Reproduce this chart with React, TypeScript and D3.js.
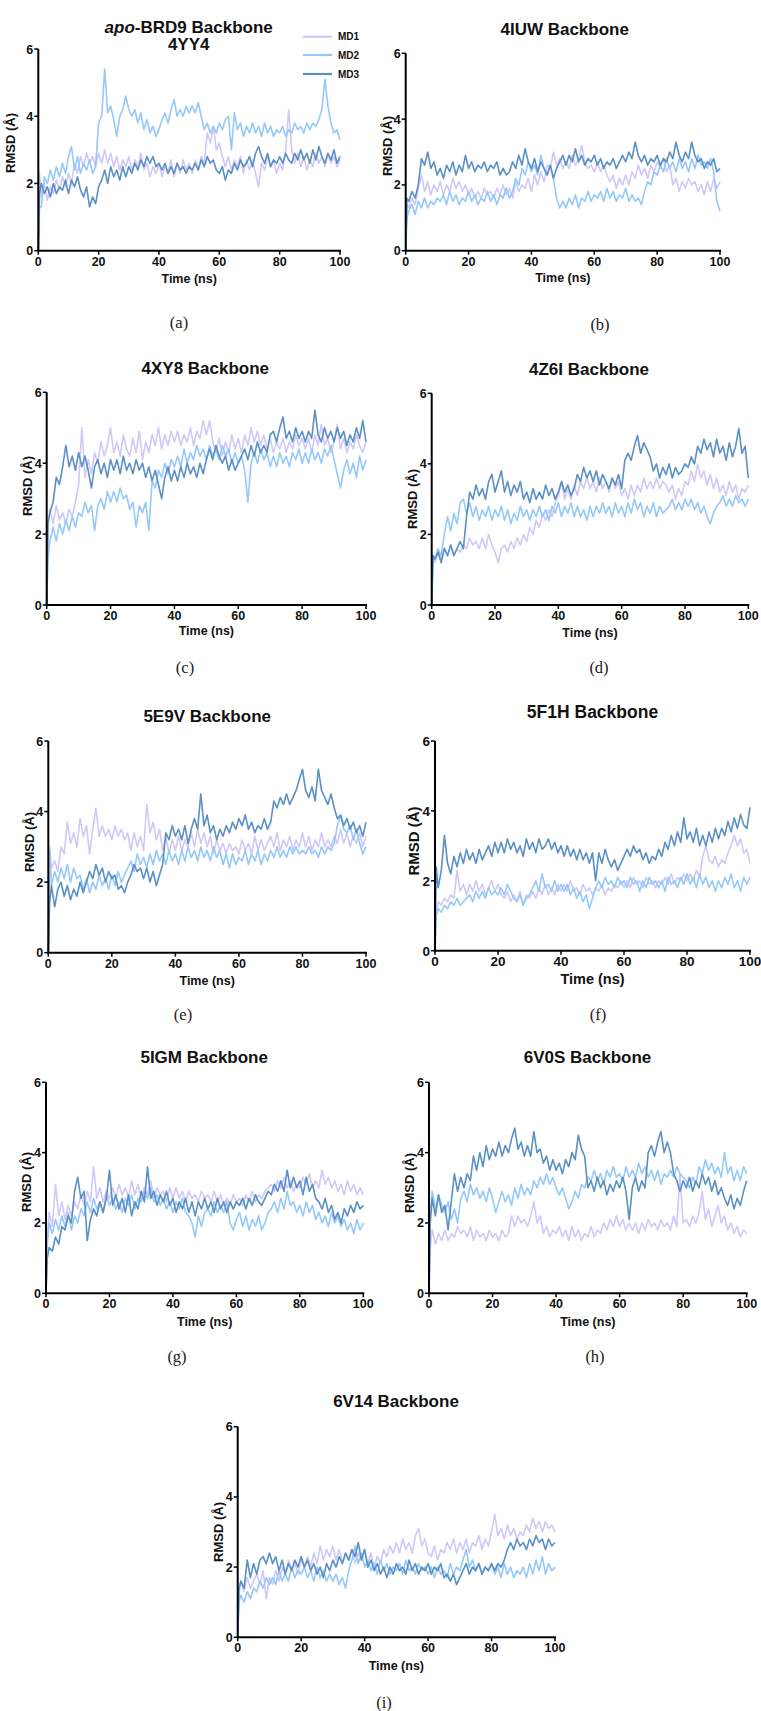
import React from 'react';
import * as d3 from 'd3';

// ---------- data ----------
const TIME_NS: number[] = [0, 0.4, ...d3.range(1, 101)];
const Y_TICKS = [0, 2, 4, 6];
const X_TICKS = [0, 20, 40, 60, 80, 100];
const SERIES_NAMES = ['MD1', 'MD2', 'MD3'];

// (a) 4YY4
const RMSD_4YY4_MD1 = [0, 2.3,
  1.6, 2.0, 1.5, 1.9, 1.7, 2.1, 1.8, 2.2, 1.9, 2.3,
  2.0, 2.6, 2.3, 2.8, 2.5, 2.9, 2.6, 2.8, 2.5, 2.9,
  2.6, 3.0, 2.6, 2.9, 2.5, 2.8, 2.4, 2.7, 2.5, 2.8,
  2.4, 2.7, 2.5, 2.9, 2.4, 2.6, 2.2, 2.5, 2.3, 2.6,
  2.2, 2.5, 2.3, 2.7, 2.2, 2.6, 2.3, 2.7, 2.4, 2.6,
  2.3, 2.7, 2.4, 2.8, 2.6, 3.5, 3.2, 3.7, 3.0, 3.2,
  2.8, 2.5, 2.8, 2.4, 2.7, 2.5, 2.8, 2.3, 2.7, 2.4,
  2.7, 2.3, 1.9, 2.6, 2.4, 2.8, 2.5, 2.7, 2.3, 2.6,
  2.4, 3.0, 4.2, 3.0, 2.6, 2.9, 2.5, 2.8, 2.4, 2.7,
  2.5, 2.9, 2.6, 2.8, 2.5, 2.9, 2.6, 2.8, 2.5, 2.7];
const RMSD_4YY4_MD2 = [0, 1.3,
  1.3, 2.2, 2.0, 2.4, 2.1, 2.5, 2.2, 2.6, 2.3, 2.8,
  3.1, 2.4, 2.8, 2.3, 2.6, 2.4, 2.7, 2.3, 2.5, 3.8,
  4.0, 5.4, 4.1, 4.3, 3.9, 3.4, 4.0, 4.2, 4.6, 4.2,
  4.0, 4.2, 3.8, 4.1, 3.6, 3.9, 3.5, 3.7, 3.4, 3.6,
  3.9, 4.1, 3.8, 4.2, 4.5, 4.0, 4.2, 4.0, 4.3, 4.1,
  4.3, 4.1, 4.4, 4.0, 3.6, 3.8, 3.5, 3.7, 3.5, 3.8,
  3.6, 3.9, 4.0, 3.0, 4.1, 3.6, 3.8, 3.4, 3.7, 3.5,
  3.8, 3.5, 3.7, 3.4, 3.8, 3.5, 3.7, 3.4, 3.6, 3.5,
  3.7, 3.4, 3.6, 3.5, 3.8, 3.6, 3.7, 3.5, 3.8, 3.6,
  3.8, 3.7, 3.9, 4.2, 5.1, 4.3, 3.8, 3.5, 3.6, 3.3];
const RMSD_4YY4_MD3 = [0, 1.7,
  2.0, 1.7, 1.9, 1.6, 2.0, 1.7, 1.9, 1.8, 2.1, 1.7,
  2.1, 1.9, 2.2, 1.8, 1.6, 1.9, 1.3, 1.6, 1.4, 1.9,
  2.1, 2.4, 2.0, 2.5, 2.2, 2.4, 2.1, 2.5, 2.2, 2.5,
  2.3, 2.6, 2.4, 2.7, 2.5, 2.8, 2.6, 2.8, 2.5, 2.6,
  2.4, 2.6, 2.3, 2.5, 2.3, 2.6, 2.4, 2.5, 2.3, 2.5,
  2.4, 2.6, 2.4, 2.7, 2.5, 2.8, 2.6, 2.7, 2.4, 2.3,
  2.5, 2.1, 2.4, 2.3, 2.6, 2.4, 2.7, 2.5, 2.6, 2.8,
  2.5, 2.9, 3.1, 2.8, 2.6, 2.9, 2.5, 2.7, 2.6, 2.8,
  2.6, 2.9, 2.7, 2.6, 2.9, 2.7, 3.0, 2.7, 2.9, 2.6,
  3.0, 2.7, 3.1, 2.8, 2.6, 2.9, 2.7, 3.0, 2.6, 2.8];

// (b) 4IUW
const RMSD_4IUW_MD1 = [0, 1.4,
  1.3, 1.6, 1.4, 1.9, 2.3, 1.8, 2.1, 1.7, 2.0, 1.8,
  2.1, 1.7, 2.0, 1.8, 2.2, 1.9, 2.1, 1.8, 2.0, 1.7,
  1.9, 1.6, 1.8, 1.6, 1.9, 1.7, 1.8, 1.6, 1.9, 1.7,
  2.0, 1.7, 1.9, 1.6, 2.1, 1.8, 2.0, 1.9, 2.2, 1.8,
  2.3, 2.0, 2.4, 2.1, 2.6, 2.5, 3.0, 2.6, 2.8, 2.5,
  2.7, 2.5, 2.9, 2.6, 2.8, 3.2, 2.7, 2.5, 2.6, 2.4,
  2.7, 2.4, 2.6, 2.3, 2.1, 2.3, 1.9, 2.2, 2.0, 2.3,
  2.0, 2.4, 2.2, 2.6, 2.3, 2.5, 2.2, 2.6, 2.4, 2.7,
  2.5, 2.8, 2.4, 2.6, 2.0, 2.2, 1.8, 2.1, 1.9, 2.2,
  2.0, 2.1, 1.8, 2.0, 1.7, 2.1, 1.8, 2.2, 1.9, 2.1];
const RMSD_4IUW_MD2 = [0, 1.0,
  1.2, 1.4, 1.1, 1.5, 1.3, 1.6, 1.3, 1.5, 1.4, 1.6,
  1.5, 1.7, 1.4, 1.8, 1.5, 1.7, 1.4, 1.6, 1.5, 1.8,
  1.5, 1.7, 1.4, 1.6, 1.5, 1.8, 1.5, 1.7, 1.4, 1.7,
  1.6, 1.9, 1.6, 1.8, 2.2, 2.0, 2.5, 2.3, 2.7, 2.4,
  2.6, 2.3, 2.9, 2.5, 2.3, 2.6, 2.2, 1.6, 1.3, 1.5,
  1.3, 1.6, 1.4, 1.7, 1.3, 1.6, 1.5, 1.8, 1.5, 1.7,
  1.6, 1.8, 1.5, 1.9, 1.6, 1.8, 1.5, 1.7, 1.6, 1.9,
  1.5, 1.7, 1.5, 1.6, 1.4, 1.8, 2.1, 2.0, 2.4, 2.3,
  2.6, 2.4, 2.8, 2.5, 2.7, 2.4, 2.8, 2.5, 2.7, 2.4,
  2.8, 2.5, 2.9, 2.6, 2.7, 2.5, 2.8, 2.4, 1.5, 1.2];
const RMSD_4IUW_MD3 = [0, 1.6,
  1.5, 1.8, 1.6, 2.0, 2.8, 2.6, 3.0, 2.5, 2.7, 2.3,
  2.5, 2.2, 2.6, 2.4, 2.7, 2.3, 2.6, 2.4, 2.9, 2.5,
  2.7, 2.4, 2.6, 2.5, 2.7, 2.4, 2.6, 2.5, 2.7, 2.3,
  2.5, 2.3, 2.4, 2.7, 2.5, 2.9, 2.6, 3.1, 2.7, 2.5,
  2.8, 2.4, 2.7, 2.5, 2.3, 2.6, 2.2, 2.5, 2.7, 2.9,
  2.6, 2.9, 2.7, 3.1, 2.7, 2.9, 2.6, 2.8, 2.7, 2.9,
  2.6, 2.8, 2.5, 2.7, 2.6, 2.8, 2.5, 2.7, 2.9, 2.7,
  3.0, 2.8, 3.3, 2.9, 2.7, 2.9, 2.6, 2.8, 2.7, 2.9,
  2.6, 2.8, 2.7, 3.0, 2.8, 3.3, 2.9, 2.7, 3.0, 2.8,
  3.3, 2.9, 2.7, 2.8, 2.5, 2.7, 2.6, 2.8, 2.4, 2.5];

// (c) 4XY8
const RMSD_4XY8_MD1 = [0, 2.2,
  2.7, 2.3, 2.8, 2.4, 2.6, 2.3, 2.7, 2.5, 2.9, 3.4,
  5.0, 3.6, 4.1, 3.7, 4.3, 4.0, 4.6, 4.2, 4.5, 5.0,
  4.3, 4.6, 4.2, 4.8, 4.4, 4.2, 4.7, 4.3, 4.9, 4.1,
  4.6, 4.3, 4.8, 4.5, 5.0, 4.4, 4.8, 4.5, 4.9, 4.6,
  4.9, 4.5, 4.8, 4.6, 5.0, 4.5, 4.9, 4.7, 5.2, 4.8,
  5.2, 4.6, 4.3, 4.7, 4.2, 4.6, 4.3, 4.8, 4.4, 4.7,
  4.3, 4.8, 4.5, 5.0, 4.6, 4.9, 4.5, 4.8, 4.4, 4.7,
  4.3, 4.6, 4.4, 4.7, 4.3, 4.6, 4.4, 4.8, 4.5, 4.7,
  4.4, 4.7, 4.3, 4.8, 4.5, 5.1, 4.5, 4.7, 4.3, 4.6,
  5.1, 4.4, 4.7, 4.3, 4.6, 4.4, 4.8, 4.5, 4.3, 4.6];
const RMSD_4XY8_MD2 = [0, 1.3,
  1.8, 2.2, 1.8, 2.3, 2.0, 2.4, 2.1, 2.5, 2.2, 2.6,
  2.5, 2.9, 2.6, 2.8, 2.1, 2.8, 3.0, 2.7, 3.2, 2.9,
  3.2, 2.9, 3.3, 3.0, 3.1, 2.7, 2.9, 2.2, 2.8, 2.6,
  2.9, 2.1, 3.5, 3.3, 3.8, 3.6, 4.0, 3.7, 4.1, 3.9,
  4.2, 3.9, 4.4, 4.0, 4.3, 4.1, 4.5, 4.2, 4.4, 4.1,
  4.5, 4.2, 4.4, 4.1, 4.5, 4.2, 4.4, 4.0, 4.3, 4.0,
  4.2, 3.8, 2.9, 4.0, 4.3, 4.0, 4.4, 4.1, 4.3, 3.9,
  4.2, 3.9, 4.3, 4.0, 4.2, 3.9, 4.3, 4.1, 4.4, 4.0,
  4.3, 4.0, 4.4, 4.1, 4.3, 4.0, 4.4, 4.2, 4.5, 4.1,
  3.7, 3.3, 3.8, 4.1, 3.7, 4.0, 3.6, 4.2, 3.8, 4.1];
const RMSD_4XY8_MD3 = [0, 2.3,
  2.6, 2.9, 3.6, 3.4, 3.9, 4.5, 3.9, 4.2, 3.8, 4.3,
  3.9, 4.2, 3.8, 3.3, 3.9, 4.1, 3.7, 4.0, 3.6, 4.1,
  3.8, 4.1, 3.7, 4.2, 3.8, 4.0, 3.7, 4.1, 3.8, 4.0,
  3.6, 3.9, 3.5, 3.8, 3.4, 3.0, 3.6, 3.9, 3.5, 3.8,
  3.5, 3.9, 3.6, 4.0, 3.7, 3.9, 3.6, 4.0, 3.7, 4.1,
  4.4, 4.1, 4.5, 4.2, 4.0, 4.2, 3.8, 4.1, 3.8, 4.0,
  4.2, 4.4, 4.1, 4.5, 4.2, 4.6, 4.3, 4.5, 4.3, 4.8,
  4.9, 4.6, 5.0, 5.3, 4.7, 4.9, 4.6, 5.0, 4.7, 4.9,
  4.6, 4.9, 4.7, 5.5, 4.8, 4.6, 5.0, 4.7, 4.9, 4.6,
  5.0, 4.7, 4.9, 4.5, 4.8, 4.6, 5.0, 4.7, 5.2, 4.6];

// (d) 4Z6I
const RMSD_4Z6I_MD1 = [0, 1.3,
  1.2, 1.5, 1.3, 1.6, 1.4, 1.7, 1.4, 1.6, 1.5, 1.7,
  1.6, 1.9, 1.7, 1.8, 1.6, 1.9, 1.6, 2.0, 1.7, 1.5,
  1.2, 1.6, 1.7, 1.5, 1.8, 1.6, 1.9, 1.7, 2.0, 1.8,
  2.2, 2.0, 2.4, 2.2, 2.6, 2.4, 2.7, 2.5, 2.9, 3.1,
  3.5, 3.0, 3.3, 3.0, 3.4, 3.1, 3.5, 3.3, 3.6, 3.3,
  3.5, 3.2, 3.6, 3.3, 3.5, 3.2, 3.6, 3.3, 3.5, 3.1,
  3.3, 3.0, 3.4, 3.1, 3.4, 3.2, 3.6, 3.3, 3.5, 3.3,
  3.6, 3.3, 3.5, 3.4, 3.2, 3.4, 3.0, 3.3, 3.1, 3.5,
  3.4, 3.8, 3.5, 4.0, 3.6, 3.8, 3.4, 3.7, 3.3, 3.6,
  3.2, 3.4, 3.1, 3.5, 3.2, 3.4, 3.0, 3.3, 3.2, 3.4];
const RMSD_4Z6I_MD2 = [0, 1.4,
  1.3, 1.6, 1.4, 2.0, 2.5, 2.1, 2.6, 2.3, 2.9, 3.0,
  2.6, 2.9, 2.5, 2.8, 2.4, 2.7, 2.5, 2.8, 2.4, 2.7,
  2.5, 2.8, 2.4, 2.7, 2.3, 2.6, 2.4, 2.8, 2.5, 2.7,
  2.4, 2.7, 2.5, 2.8, 2.5, 2.7, 2.4, 2.8, 2.6, 2.9,
  2.5, 2.8, 2.6, 2.9, 2.5, 2.8, 2.5, 2.7, 2.4, 2.8,
  2.5, 2.8, 2.6, 2.9, 2.6, 2.8, 2.5, 2.9, 2.6, 2.8,
  2.5, 2.9, 2.6, 3.0, 2.7, 2.9, 2.5, 2.8, 2.6, 2.9,
  2.5, 2.8, 2.6, 2.7, 2.8, 3.0, 2.7, 2.9, 2.7, 3.0,
  2.8, 3.0, 2.7, 2.9, 2.6, 2.8, 2.5, 2.3, 2.6, 2.8,
  2.9, 3.1, 2.8, 3.0, 2.8, 3.1, 2.9, 3.0, 2.8, 3.0];
const RMSD_4Z6I_MD3 = [0, 1.4,
  1.3, 1.5, 1.2, 1.6, 1.4, 1.7, 1.4, 1.6, 1.8, 1.6,
  2.5, 3.2, 3.0, 3.4, 3.1, 3.3, 3.0, 3.5, 3.7, 3.2,
  3.5, 3.8, 3.2, 3.5, 3.1, 3.4, 3.2, 3.5, 3.0, 3.2,
  2.9, 3.3, 3.0, 3.2, 3.0, 3.4, 3.1, 3.3, 3.0, 3.2,
  3.5, 3.2, 3.4, 3.1, 3.3, 3.7, 3.5, 3.9, 3.6, 3.8,
  3.5, 3.8, 3.4, 3.7, 3.5, 3.3, 3.6, 3.4, 3.7, 3.3,
  4.1, 4.3, 4.1, 4.5, 4.8, 4.3, 4.6, 4.4, 4.2, 3.8,
  4.0, 3.6, 3.9, 3.7, 4.0, 3.6, 3.9, 3.7, 3.8, 4.0,
  3.9, 4.2, 4.0, 4.5, 4.3, 4.7, 4.4, 4.6, 4.2, 4.7,
  4.3, 4.5, 4.1, 4.6, 4.2, 4.5, 5.0, 4.3, 4.5, 3.6];

// (e) 5E9V
const RMSD_5E9V_MD1 = [0, 3.0,
  2.4, 2.6, 2.3, 3.0, 2.8, 3.7, 3.1, 3.4, 3.0, 3.8,
  3.3, 3.6, 2.8, 3.5, 4.1, 3.3, 3.6, 3.3, 3.5, 3.2,
  3.6, 3.3, 3.5, 3.2, 3.4, 2.9, 3.4, 3.0, 3.3, 2.9,
  4.2, 3.4, 3.7, 3.2, 3.5, 2.9, 3.3, 2.8, 3.2, 2.9,
  3.3, 2.9, 3.2, 3.0, 3.4, 3.0, 3.5, 3.1, 3.4, 3.0,
  3.3, 2.8, 3.2, 2.9, 3.1, 2.8, 3.1, 2.9, 3.0, 2.8,
  3.2, 2.9, 3.1, 2.8, 3.3, 2.9, 3.2, 2.9, 3.1, 3.3,
  3.0, 3.4, 2.9, 3.2, 3.0, 3.3, 2.9, 3.2, 3.0, 3.4,
  3.0, 3.3, 2.9, 3.2, 3.0, 3.4, 3.0, 3.2, 3.0, 3.3,
  3.1, 3.5, 3.1, 3.4, 3.0, 3.3, 3.1, 3.4, 3.0, 3.3];
const RMSD_5E9V_MD2 = [0, 2.9,
  1.9, 2.3, 2.0, 2.4, 2.1, 2.5, 2.0, 2.4, 2.1, 2.2,
  1.8, 2.1, 1.7, 2.0, 1.8, 2.2, 1.9, 2.1, 1.8, 2.2,
  1.9, 2.3, 2.0, 2.2, 2.4, 2.6, 2.3, 2.8, 2.5, 2.7,
  2.4, 2.8, 2.5, 2.9, 2.6, 2.8, 2.5, 2.9, 2.6, 2.8,
  2.5, 2.9, 2.6, 3.0, 2.7, 2.9, 2.6, 3.0, 2.7, 2.9,
  2.6, 3.0, 2.7, 2.9, 2.5, 2.8, 2.4, 2.8, 2.5, 2.7,
  2.6, 2.9, 2.5, 2.8, 2.6, 2.9, 2.5, 2.8, 2.6, 2.9,
  2.7, 3.0, 2.7, 2.9, 2.7, 3.0, 2.8, 3.0, 2.8, 2.9,
  2.8, 3.0, 2.8, 2.9, 2.7, 3.0, 2.8, 3.0, 2.9, 3.1,
  3.6, 3.9, 3.5, 3.4, 3.6, 3.2, 3.5, 3.1, 2.8, 3.0];
const RMSD_5E9V_MD3 = [0, 1.4,
  1.9, 1.3, 1.8, 2.0, 1.6, 1.9, 1.5, 1.8, 1.6, 2.0,
  1.7, 2.0, 2.3, 2.1, 2.5, 2.2, 2.4, 2.0, 2.3, 2.1,
  2.2, 1.8, 1.9, 1.7, 2.0, 2.2, 2.5, 2.3, 2.4, 2.1,
  2.4, 2.0, 2.3, 1.9, 2.2, 2.5, 3.4, 3.2, 3.6, 3.3,
  3.5, 3.2, 3.6, 3.1, 3.5, 3.8, 3.5, 4.5, 3.6, 3.9,
  3.4, 3.6, 3.2, 3.5, 3.3, 3.6, 3.4, 3.7, 3.5, 3.8,
  3.6, 3.9, 3.5, 3.7, 3.4, 3.6, 3.5, 3.8, 3.5, 3.7,
  4.3, 4.1, 4.4, 4.2, 4.5, 4.2, 4.4, 4.6, 4.9, 5.2,
  4.6, 4.4, 4.7, 4.3, 5.2, 4.6, 4.4, 4.2, 4.5, 4.1,
  3.8, 3.9, 3.6, 3.8, 3.5, 3.7, 3.4, 3.6, 3.3, 3.7];

// (f) 5F1H
const RMSD_5F1H_MD1 = [0, 1.0,
  1.4, 1.3, 1.5, 1.4, 1.6, 1.5, 2.3, 1.7, 1.9, 1.6,
  1.9, 1.7, 2.0, 1.7, 1.9, 1.6, 1.8, 2.0, 1.7, 1.9,
  1.6, 1.5, 1.7, 1.4, 1.6, 1.4, 1.7, 1.3, 1.6, 1.5,
  1.7, 1.5, 1.8, 1.6, 1.9, 1.6, 1.8, 1.6, 1.9, 1.7,
  1.9, 1.7, 2.0, 1.7, 1.8, 1.6, 1.9, 1.7, 1.8, 1.6,
  1.8, 1.7, 1.9, 1.6, 1.8, 1.7, 1.9, 1.8, 2.0, 1.8,
  2.0, 1.8, 2.1, 1.9, 2.0, 1.8, 2.1, 1.9, 2.0, 1.8,
  2.0, 1.9, 2.1, 1.9, 2.2, 1.9, 2.1, 2.0, 2.2, 2.0,
  2.2, 2.0, 2.3, 2.1, 2.7, 3.0, 2.6, 2.5, 2.7, 2.4,
  2.6, 2.5, 2.8, 3.0, 3.3, 3.0, 3.2, 2.8, 2.9, 2.5];
const RMSD_5F1H_MD2 = [0, 1.0,
  1.2, 1.1, 1.3, 1.2, 1.4, 1.3, 1.5, 1.3, 1.4, 1.5,
  1.6, 1.4, 1.7, 1.5, 1.7, 1.5, 1.8, 1.6, 1.7, 1.6,
  1.8, 1.6, 1.9, 1.7, 1.5, 1.4, 1.6, 1.3, 1.5, 1.6,
  1.8, 2.0, 1.7, 2.2, 1.8, 1.9, 1.7, 2.0, 1.7, 1.9,
  1.7, 1.9, 1.6, 1.8, 1.5, 1.7, 1.4, 1.6, 1.2, 1.5,
  1.8, 2.0, 1.8, 2.1, 1.9, 2.0, 1.8, 2.1, 1.9, 2.0,
  1.8, 2.1, 1.9, 2.0, 1.7, 2.0, 1.8, 2.1, 1.9, 2.0,
  1.8, 2.0, 1.7, 2.1, 1.9, 2.0, 1.8, 2.1, 1.9, 2.2,
  1.9, 2.1, 1.8, 2.2, 1.9, 2.1, 1.8, 2.0, 1.7, 2.0,
  1.8, 2.1, 1.9, 2.2, 1.8, 2.0, 1.7, 2.1, 1.9, 2.1];
const RMSD_5F1H_MD3 = [0, 2.4,
  1.8, 2.3, 3.3, 2.5, 2.2, 2.7, 2.4, 2.8, 2.5, 2.9,
  2.6, 2.8, 2.5, 2.9, 2.6, 2.8, 3.0, 2.7, 3.1, 2.8,
  3.1, 2.8, 3.2, 2.9, 3.1, 2.8, 3.0, 2.7, 3.2, 2.9,
  3.1, 2.8, 3.2, 2.9, 3.0, 3.2, 2.9, 3.1, 2.8, 3.0,
  2.7, 3.0, 2.7, 2.9, 2.6, 2.9, 2.6, 2.8, 2.5, 2.8,
  2.0, 2.8, 2.5, 2.9, 2.6, 2.4, 2.6, 2.3, 2.5, 2.7,
  2.9, 2.7, 3.0, 2.8, 2.9, 2.6, 2.8, 2.5, 2.7, 2.6,
  2.9, 2.7, 3.1, 2.9, 3.3, 3.0, 3.4, 3.1, 3.8, 3.2,
  3.4, 3.1, 3.5, 3.0, 3.3, 3.0, 3.4, 3.1, 3.5, 3.2,
  3.5, 3.3, 3.7, 3.4, 3.8, 3.5, 3.9, 3.6, 3.5, 4.1];

// (g) 5IGM
const RMSD_5IGM_MD1 = [0, 1.6,
  2.3, 1.9, 3.1, 2.2, 2.6, 2.1, 2.5, 2.2, 2.6, 2.4,
  2.8, 2.5, 2.9, 2.6, 3.6, 2.7, 3.0, 2.6, 2.9, 2.7,
  3.0, 2.7, 3.1, 2.8, 3.0, 2.7, 3.2, 2.8, 3.1, 2.7,
  3.0, 2.8, 3.2, 2.7, 3.0, 2.8, 2.9, 2.6, 3.0, 2.7,
  3.0, 2.7, 2.9, 2.6, 2.9, 2.7, 2.8, 2.6, 2.9, 2.7,
  2.8, 2.6, 2.9, 2.6, 2.8, 2.5, 2.7, 2.5, 2.8, 2.6,
  2.7, 2.5, 2.8, 2.6, 2.9, 2.6, 2.8, 2.7, 2.9, 3.0,
  3.1, 2.9, 3.2, 3.0, 3.3, 3.0, 3.2, 2.9, 3.1, 3.0,
  3.3, 3.1, 3.4, 3.0, 3.2, 3.0, 3.5, 3.1, 3.3, 3.0,
  3.2, 2.9, 3.1, 2.8, 3.2, 2.9, 3.1, 2.8, 3.0, 2.8];
const RMSD_5IGM_MD2 = [0, 1.4,
  2.0, 1.7, 2.1, 1.8, 2.2, 1.9, 2.3, 1.8, 2.2, 2.0,
  2.4, 2.2, 2.6, 2.3, 2.7, 2.4, 2.6, 2.3, 2.8, 2.5,
  2.7, 2.4, 2.6, 2.3, 2.7, 2.5, 2.8, 2.4, 2.7, 2.6,
  2.9, 2.7, 3.0, 2.6, 2.8, 2.5, 2.7, 2.4, 2.6, 2.3,
  2.6, 2.4, 2.7, 2.3, 2.2, 2.0, 1.6, 2.2, 1.9, 2.3,
  2.4, 2.2, 2.6, 2.3, 2.5, 2.3, 2.6, 2.0, 1.8, 2.1,
  2.3, 1.9, 2.2, 1.8, 2.1, 1.9, 2.2, 1.8, 2.0, 2.3,
  2.4, 2.6, 2.3, 2.7, 2.4, 2.9, 2.5, 2.6, 2.3, 2.5,
  2.2, 2.6, 2.3, 2.5, 2.1, 2.3, 2.0, 2.2, 1.9, 2.3,
  2.0, 2.2, 1.9, 2.1, 1.8, 2.0, 1.7, 2.1, 1.8, 2.0];
const RMSD_5IGM_MD3 = [0, 1.0,
  1.3, 1.2, 1.6, 1.4, 1.9, 1.8, 2.2, 2.0, 2.9, 3.3,
  2.7, 2.9, 1.5, 2.1, 2.4, 2.2, 2.6, 2.3, 2.7, 3.5,
  2.5, 2.8, 2.4, 2.7, 2.3, 2.8, 2.2, 2.6, 2.4, 2.9,
  2.6, 3.6, 2.7, 2.9, 2.5, 2.8, 2.6, 2.9, 2.5, 2.7,
  2.3, 2.6, 2.4, 2.7, 2.3, 2.6, 2.2, 2.6, 2.4, 2.7,
  2.4, 2.6, 2.3, 2.7, 2.4, 2.6, 2.3, 2.6, 2.4, 2.6,
  2.5, 2.7, 2.4, 2.7, 2.5, 2.8, 2.6, 2.5, 2.7, 2.9,
  2.8, 3.1, 2.9, 3.2, 2.9, 3.5, 3.0, 3.3, 3.0, 3.2,
  2.8, 3.3, 2.9, 3.1, 2.7, 2.6, 2.4, 2.7, 2.3, 2.5,
  2.1, 2.3, 2.0, 2.4, 2.2, 2.5, 2.3, 2.6, 2.4, 2.5];

// (h) 6V0S
const RMSD_6V0S_MD1 = [0, 1.3,
  1.8, 1.4, 1.7, 1.5, 1.8, 1.5, 1.7, 1.6, 1.9, 1.7,
  1.8, 1.6, 1.9, 1.5, 1.8, 1.6, 1.7, 1.5, 1.8, 1.6,
  1.7, 1.5, 1.8, 1.6, 1.7, 2.2, 1.9, 2.2, 2.0, 2.1,
  1.9, 2.2, 2.6, 2.0, 2.2, 1.7, 1.9, 1.6, 1.8, 1.7,
  1.9, 1.6, 1.8, 1.5, 1.9, 1.6, 1.8, 1.5, 1.7, 1.6,
  1.9, 1.6, 1.8, 1.7, 2.0, 1.8, 2.1, 1.9, 2.2, 1.9,
  2.1, 1.8, 2.0, 1.8, 2.0, 1.7, 2.0, 1.8, 2.1, 1.9,
  2.0, 1.8, 2.1, 1.9, 2.0, 1.8, 2.2, 1.9, 3.4, 2.0,
  2.1, 1.9, 2.2, 2.0, 2.3, 2.9, 2.1, 2.4, 1.9, 2.2,
  2.5, 2.0, 2.2, 1.8, 2.0, 1.7, 1.9, 1.6, 1.8, 1.7];
const RMSD_6V0S_MD2 = [0, 2.3,
  2.9, 2.4, 2.8, 2.5, 2.3, 2.6, 2.1, 2.4, 2.0, 2.7,
  2.9, 2.6, 3.1, 2.8, 3.0, 2.7, 2.9, 2.6, 3.0, 2.7,
  2.3, 2.6, 2.9, 2.6, 2.8, 2.5, 3.0, 2.7, 3.1, 2.8,
  3.0, 2.8, 3.2, 3.0, 3.3, 3.1, 3.4, 3.1, 3.3, 3.0,
  2.8, 3.0, 2.7, 2.4, 2.6, 2.9, 2.7, 3.1, 3.0, 3.3,
  3.2, 3.5, 3.2, 3.4, 3.1, 3.5, 3.3, 3.6, 3.3, 3.4,
  3.2, 3.6, 3.3, 3.5, 3.3, 3.7, 3.4, 3.6, 3.3, 3.5,
  3.2, 3.5, 3.1, 3.4, 3.3, 3.5, 3.3, 3.6, 3.4, 3.3,
  3.2, 3.0, 3.3, 3.1, 3.6, 3.4, 3.8, 3.5, 3.7, 3.4,
  3.6, 3.3, 4.0, 3.4, 3.6, 3.2, 3.5, 3.2, 3.6, 3.4];
const RMSD_6V0S_MD3 = [0, 2.0,
  2.7, 2.2, 2.8, 2.3, 2.5, 1.8, 2.6, 3.4, 2.9, 3.3,
  3.0, 3.4, 3.2, 3.9, 3.5, 4.0, 3.6, 4.2, 3.8, 4.1,
  3.9, 4.3, 3.9, 4.2, 4.0, 4.4, 4.7, 4.1, 4.3, 3.9,
  4.2, 3.9, 4.6, 4.0, 4.1, 3.7, 3.9, 3.5, 3.8, 3.5,
  3.7, 3.4, 3.8, 3.6, 4.0, 3.8, 4.5, 4.1, 3.9, 3.0,
  3.2, 2.9, 3.3, 3.0, 3.2, 2.8, 3.1, 2.9, 3.2, 3.0,
  3.3, 2.9, 2.1, 3.0, 3.3, 2.9, 3.2, 3.0, 4.0, 4.2,
  3.9, 4.3, 4.6, 4.0, 4.3, 4.0, 3.4, 3.2, 2.9, 3.2,
  3.0, 3.3, 2.9, 3.2, 3.0, 3.4, 3.1, 3.3, 2.9, 3.2,
  2.8, 3.0, 2.7, 2.5, 2.8, 2.4, 2.7, 2.5, 2.9, 3.2];

// (i) 6V14
const RMSD_6V14_MD1 = [0, 1.2,
  1.6, 1.3, 1.7, 1.4, 1.6, 1.8, 1.5, 1.9, 1.1, 1.7,
  1.5, 1.9, 1.6, 2.0, 1.8, 2.2, 1.9, 2.1, 1.8, 2.2,
  2.0, 2.3, 2.0, 2.4, 2.1, 2.6, 2.2, 2.5, 2.3, 2.6,
  2.2, 2.5, 2.1, 2.4, 2.2, 2.5, 2.1, 2.4, 2.2, 2.5,
  2.1, 2.4, 2.0, 2.3, 2.1, 2.5, 2.3, 2.6, 2.4, 2.7,
  2.4, 2.8, 2.5, 2.7, 2.4, 2.9, 3.1, 2.6, 2.8, 2.4,
  2.3, 2.6, 2.2, 2.5, 2.4, 2.7, 2.5, 2.8, 2.4, 2.7,
  2.5, 2.8, 2.4, 2.7, 2.6, 2.9, 2.5, 2.8, 2.6, 3.0,
  3.5, 2.9, 3.1, 2.8, 3.2, 2.9, 3.1, 2.8, 3.0, 2.9,
  3.2, 3.0, 3.4, 3.1, 3.3, 3.0, 3.3, 3.1, 3.2, 3.0];
const RMSD_6V14_MD2 = [0, 1.0,
  1.2, 1.0, 1.3, 1.1, 1.4, 1.3, 1.6, 1.4, 1.7, 1.5,
  1.7, 1.5, 1.9, 1.6, 1.8, 1.6, 2.0, 1.7, 1.9, 1.8,
  2.0, 1.7, 1.9, 1.6, 2.0, 1.7, 1.9, 1.6, 1.8, 1.6,
  1.8, 1.5, 1.7, 1.4, 1.9, 2.2, 2.6, 2.1, 2.4, 2.0,
  2.2, 1.9, 2.1, 1.8, 2.2, 1.9, 2.1, 1.8, 2.0, 1.9,
  2.1, 1.8, 2.2, 1.9, 2.0, 1.8, 2.1, 1.9, 2.0, 1.8,
  2.0, 1.7, 2.0, 1.8, 1.9, 1.7, 2.1, 1.8, 2.0, 1.9,
  2.2, 2.5, 2.0, 2.2, 1.9, 2.1, 1.8, 2.0, 1.9, 2.1,
  1.8, 2.0, 1.7, 2.1, 1.8, 2.0, 1.7, 1.9, 1.8, 2.0,
  1.7, 2.1, 1.8, 2.2, 1.9, 2.3, 1.8, 2.1, 1.9, 2.0];
const RMSD_6V14_MD3 = [0, 1.4,
  1.6, 1.4, 2.2, 1.7, 2.1, 1.8, 2.2, 2.3, 2.1, 2.4,
  2.1, 2.3, 1.9, 2.2, 1.8, 2.1, 1.9, 2.2, 2.0, 2.3,
  2.0, 2.2, 1.9, 2.1, 1.8, 2.0, 1.7, 2.1, 1.9, 2.2,
  2.0, 2.3, 2.1, 2.4, 2.2, 2.5, 2.3, 2.7, 2.2, 2.5,
  2.0, 2.2, 1.9, 2.1, 1.8, 2.0, 1.7, 2.0, 1.8, 2.1,
  1.9, 2.0, 1.8, 2.2, 1.9, 2.1, 1.8, 2.0, 1.9, 2.1,
  1.8, 2.0, 1.9, 2.1, 1.7, 1.8, 1.6, 1.8, 1.5, 1.7,
  1.9, 2.1, 1.8, 2.0, 1.9, 2.1, 1.8, 2.0, 1.9, 2.1,
  1.9, 2.1, 2.0, 2.2, 2.5, 2.7, 2.5, 2.8, 2.6, 2.7,
  2.5, 2.8, 2.6, 2.9, 2.7, 2.8, 2.5, 2.8, 2.6, 2.7];

const PANELS = [
  { key: 'a', title: ['apo-BRD9 Backbone', '4YY4'], caption: '(a)', series: [RMSD_4YY4_MD1, RMSD_4YY4_MD2, RMSD_4YY4_MD3], legend: true },
  { key: 'b', title: ['4IUW Backbone'], caption: '(b)', series: [RMSD_4IUW_MD1, RMSD_4IUW_MD2, RMSD_4IUW_MD3] },
  { key: 'c', title: ['4XY8 Backbone'], caption: '(c)', series: [RMSD_4XY8_MD1, RMSD_4XY8_MD2, RMSD_4XY8_MD3] },
  { key: 'd', title: ['4Z6I Backbone'], caption: '(d)', series: [RMSD_4Z6I_MD1, RMSD_4Z6I_MD2, RMSD_4Z6I_MD3] },
  { key: 'e', title: ['5E9V Backbone'], caption: '(e)', series: [RMSD_5E9V_MD1, RMSD_5E9V_MD2, RMSD_5E9V_MD3] },
  { key: 'f', title: ['5F1H Backbone'], caption: '(f)', series: [RMSD_5F1H_MD1, RMSD_5F1H_MD2, RMSD_5F1H_MD3] },
  { key: 'g', title: ['5IGM Backbone'], caption: '(g)', series: [RMSD_5IGM_MD1, RMSD_5IGM_MD2, RMSD_5IGM_MD3] },
  { key: 'h', title: ['6V0S Backbone'], caption: '(h)', series: [RMSD_6V0S_MD1, RMSD_6V0S_MD2, RMSD_6V0S_MD3] },
  { key: 'i', title: ['6V14 Backbone'], caption: '(i)', series: [RMSD_6V14_MD1, RMSD_6V14_MD2, RMSD_6V14_MD3] },
];

// ---------- layout / style ----------
const COLORS = ['#d0c8f7', '#95c9f9', '#5a90c5'];
const FONT = '"Liberation Sans", Arial, Helvetica, sans-serif';

type Lay = {
  x0: number; x1: number; yTop: number; yBot: number;
  tX: number; tY: number[]; capX: number; capY: number;
  yLabX: number; yLabY: number; tick: number; lab: number; title: number; timeY: number;
};

const LAYOUT: Record<string, Lay> = {
  a: { x0: 38.3, x1: 340, yTop: 49, yBot: 250.7, tX: 188.7, tY: [32.5, 50], capX: 179, capY: 328, yLabX: 10, yLabY: 143, tick: 12.5, lab: 12.5, title: 17, timeY: 283 },
  b: { x0: 405.7, x1: 720, yTop: 53.3, yBot: 250.7, tX: 564.7, tY: [35], capX: 600, capY: 330, yLabX: 387.5, yLabY: 146, tick: 12.5, lab: 12.5, title: 17, timeY: 282 },
  c: { x0: 46.7, x1: 366, yTop: 392.3, yBot: 605, tX: 205.3, tY: [374], capX: 185, capY: 673, yLabX: 27.5, yLabY: 486, tick: 12.5, lab: 12.5, title: 17, timeY: 635 },
  d: { x0: 431.7, x1: 748.3, yTop: 393.3, yBot: 605, tX: 589, tY: [375], capX: 599, capY: 673, yLabX: 412, yLabY: 499, tick: 12.5, lab: 12.5, title: 17, timeY: 636.5 },
  e: { x0: 48.3, x1: 366, yTop: 741, yBot: 952.7, tX: 207.2, tY: [721.7], capX: 183, capY: 1020, yLabX: 29, yLabY: 842, tick: 12.5, lab: 12.5, title: 17, timeY: 985 },
  f: { x0: 435, x1: 750, yTop: 741, yBot: 950.7, tX: 592.5, tY: [718.3], capX: 598, capY: 1020, yLabX: 413.7, yLabY: 841, tick: 13.5, lab: 14.5, title: 17.5, timeY: 984 },
  g: { x0: 46, x1: 363.3, yTop: 1082.3, yBot: 1293.3, tX: 204.2, tY: [1062.7], capX: 177, capY: 1362, yLabX: 26.7, yLabY: 1182, tick: 12.5, lab: 12.5, title: 17, timeY: 1326 },
  h: { x0: 429, x1: 746.7, yTop: 1082.3, yBot: 1293.3, tX: 587.5, tY: [1062.7], capX: 595, capY: 1362, yLabX: 409.5, yLabY: 1183, tick: 12.5, lab: 12.5, title: 17, timeY: 1326 },
  i: { x0: 237.7, x1: 555, yTop: 1426.7, yBot: 1637.3, tX: 396, tY: [1406.7], capX: 384, capY: 1708, yLabX: 218.3, yLabY: 1532, tick: 12.5, lab: 12.5, title: 17, timeY: 1670 },
};

function Panel({ p }: { p: typeof PANELS[number] }) {
  const L = LAYOUT[p.key];
  const x = d3.scaleLinear().domain([0, 100]).range([L.x0, L.x1]);
  const y = d3.scaleLinear().domain([0, 6]).range([L.yBot, L.yTop]);
  const line = d3
    .line<number>()
    .x((_, i) => x(TIME_NS[i]))
    .y((d) => y(d));

  return (
    <g>
      {p.series.map((s, si) => (
        <path
          key={si}
          d={line(s.slice(0, TIME_NS.length)) || ''}
          fill="none"
          stroke={COLORS[si]}
          strokeWidth={1.6}
          strokeLinejoin="round"
        />
      ))}
      {/* axes */}
      <line x1={L.x0} x2={L.x0} y1={L.yTop} y2={L.yBot + 1} stroke="#000" strokeWidth={2} />
      <line x1={L.x0 - 1} x2={x(100) + 1} y1={L.yBot} y2={L.yBot} stroke="#000" strokeWidth={2} />
      {Y_TICKS.map((t) => (
        <g key={'y' + t}>
          <line x1={L.x0 - 4} x2={L.x0} y1={y(t)} y2={y(t)} stroke="#000" strokeWidth={1.5} />
          <text
            x={L.x0 - 5}
            y={y(t)}
            dy="0.36em"
            textAnchor="end"
            fontFamily={FONT}
            fontWeight="bold"
            fontSize={L.tick}
            fill="#111"
          >
            {t}
          </text>
        </g>
      ))}
      {X_TICKS.map((t) => (
        <g key={'x' + t}>
          <line x1={x(t)} x2={x(t)} y1={L.yBot} y2={L.yBot + 4} stroke="#000" strokeWidth={1.5} />
          <text
            x={x(t)}
            y={L.yBot + 15}
            textAnchor="middle"
            fontFamily={FONT}
            fontWeight="bold"
            fontSize={L.tick}
            fill="#111"
          >
            {t}
          </text>
        </g>
      ))}
      <text
        x={(L.x0 + L.x1) / 2}
        y={L.timeY}
        textAnchor="middle"
        fontFamily={FONT}
        fontWeight="bold"
        fontSize={L.lab}
        fill="#111"
      >
        Time (ns)
      </text>
      <text
        transform={`translate(${L.yLabX},${L.yLabY}) rotate(-90)`}
        textAnchor="middle"
        dy="0.36em"
        fontFamily={FONT}
        fontWeight="bold"
        fontSize={L.lab + 0.5}
        fill="#111"
      >
        RMSD (Å)
      </text>
      {p.title.map((t, ti) => (
        <text
          key={ti}
          x={L.tX}
          y={L.tY[ti]}
          textAnchor="middle"
          fontFamily={FONT}
          fontWeight="bold"
          fontSize={L.title}
          fill="#111"
        >
          {t.startsWith('apo-') ? (
            <>
              <tspan fontStyle="italic">apo</tspan>
              {t.slice(3)}
            </>
          ) : (
            t
          )}
        </text>
      ))}
      <text
        x={L.capX}
        y={L.capY}
        textAnchor="middle"
        fontFamily='"Liberation Serif", "DejaVu Serif", serif'
        fontSize={16.5}
        fill="#222"
      >
        {p.caption}
      </text>
      {p.legend &&
        SERIES_NAMES.map((n, i) => {
          const ly = [36.7, 55, 74][i];
          return (
            <g key={n}>
              <line x1={303} x2={332} y1={ly} y2={ly} stroke={COLORS[i]} strokeWidth={2.2} />
              <text x={338} y={ly} dy="0.36em" fontFamily={FONT} fontWeight="bold" fontSize={10} fill="#111">
                {n}
              </text>
            </g>
          );
        })}
    </g>
  );
}

export default function App() {
  return (
    <svg
      width={761}
      height={1711}
      viewBox="0 0 761 1711"
      style={{ position: 'absolute', left: 0, top: 0, background: '#fff' }}
    >
      <rect x={0} y={0} width={761} height={1711} fill="#fff" />
      {PANELS.map((p) => (
        <Panel key={p.key} p={p} />
      ))}
    </svg>
  );
}
